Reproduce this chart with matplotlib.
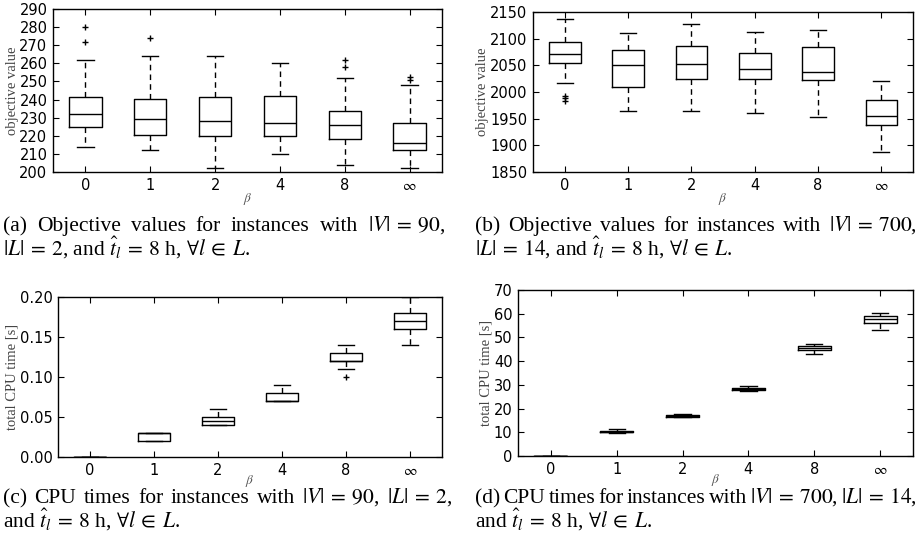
import matplotlib
matplotlib.use("Agg")
import matplotlib.pyplot as plt

plt.rcParams['mathtext.fontset'] = 'stix'
plt.rcParams['font.family'] = 'DejaVu Sans'

labels = ['0', '1', '2', '4', '8', r'$\infty$']

a_med = [232, 229, 228, 227, 226, 216]
a_q1 = [225, 220.5, 220, 220, 218, 212]
a_q3 = [241.5, 240.5, 241.5, 242, 233.5, 227]
a_lo = [214, 212, 202, 210, 204, 202]
a_hi = [262, 264, 264, 260, 252, 248]
a_fl = [[272, 280], [274], [], [], [258, 262], [251, 252.5]]

b_med = [2071, 2051, 2053, 2043, 2037, 1955]
b_q1 = [2055, 2010, 2025, 2024, 2022, 1939]
b_q3 = [2094, 2078, 2087, 2074, 2085, 1985]
b_lo = [2016, 1965, 1965, 1960, 1954, 1888]
b_hi = [2137, 2111, 2128, 2113, 2117, 2020]
b_fl = [[1984, 1988, 1992], [], [], [], [], []]

c_med = [0, 0.03, 0.045, 0.07, 0.12, 0.17]
c_q1 = [0, 0.02, 0.04, 0.07, 0.12, 0.16]
c_q3 = [0, 0.03, 0.05, 0.08, 0.13, 0.18]
c_lo = [0, 0.02, 0.04, 0.07, 0.11, 0.14]
c_hi = [0, 0.03, 0.06, 0.09, 0.14, 0.20]
c_fl = [[], [], [], [], [0.10], []]

d_med = [0, 10.3, 16.9, 28.3, 45.6, 57.7]
d_q1 = [0, 10.0, 16.5, 27.8, 44.7, 56.0]
d_q3 = [0, 10.6, 17.3, 28.8, 46.4, 59.0]
d_lo = [0, 9.8, 16.3, 27.5, 42.9, 53.3]
d_hi = [0, 11.2, 17.7, 29.5, 47.3, 60.3]
d_fl = [[], [], [], [], [], []]

W, H = 920, 552
fig = plt.figure(figsize=(W / 100, H / 100), dpi=100)


def px_axes(l, t, r, b):
    return fig.add_axes([l / W, 1 - b / H, (r - l) / W, (b - t) / H])


def draw_panel(ax, med, q1, q3, lo, hi, fl, ylim, yticks, ylabel, yfmt, xlpad):
    stats = []
    for i in range(len(med)):
        stats.append(dict(med=med[i], q1=q1[i], q3=q3[i], whislo=lo[i],
                          whishi=hi[i], fliers=fl[i]))
    ax.bxp(stats, positions=range(1, len(med) + 1), widths=0.5,
           boxprops=dict(color='black', linewidth=1.0),
           whiskerprops=dict(color='black', linewidth=1.0, linestyle=(0, (4, 3))),
           capprops=dict(color='black', linewidth=1.0),
           medianprops=dict(color='black', linewidth=1.0),
           flierprops=dict(marker='+', markeredgecolor='black', markersize=5,
                           markeredgewidth=1.0, linestyle='none'))
    ax.set_xlim(0.5, len(med) + 0.5)
    ax.set_ylim(*ylim)
    ax.set_yticks(yticks)
    ax.set_yticklabels([yfmt.format(v) for v in yticks])
    ax.set_xticks(range(1, len(med) + 1))
    ax.set_xticklabels(labels)
    ax.tick_params(direction='in', top=True, right=True, length=4,
                   width=0.8, labelsize=10.5, pad=4)
    for sp in ax.spines.values():
        sp.set_linewidth(1.0)
    ax.set_ylabel(ylabel, family='Liberation Serif', fontsize=10.5,
                  color='#444444', labelpad=0.5)
    ax.set_xlabel(r'$\beta$', fontsize=9.5, color='#555555', labelpad=xlpad)


axa = px_axes(53, 9, 442, 172)
draw_panel(axa, a_med, a_q1, a_q3, a_lo, a_hi, a_fl, (200, 290),
           list(range(200, 291, 10)), 'objective value', '{:d}', -1)
axb = px_axes(533, 12, 913, 172)
draw_panel(axb, b_med, b_q1, b_q3, b_lo, b_hi, b_fl, (1850, 2150),
           list(range(1850, 2151, 50)), 'objective value', '{:d}', -1)
axc = px_axes(58, 297, 442, 457)
draw_panel(axc, c_med, c_q1, c_q3, c_lo, c_hi, c_fl, (0, 0.2),
           [0, 0.05, 0.10, 0.15, 0.20], 'total CPU time [s]', '{:.2f}', -3.5)
axd = px_axes(518, 290, 913, 456)
draw_panel(axd, d_med, d_q1, d_q3, d_lo, d_hi, d_fl, (0, 70),
           list(range(0, 71, 10)), 'total CPU time [s]', '{:d}', -3.5)

renderer = fig.canvas.get_renderer()
CAP_SIZE = 15.5


def justify(tokens, x0, x1, ybase):
    txts = []
    widths = []
    for t in tokens:
        tx = fig.text(0, 1 - ybase / H, t, fontsize=CAP_SIZE,
                      family='Liberation Serif', va='baseline', ha='left')
        txts.append(tx)
        widths.append(tx.get_window_extent(renderer).width)
    gap = (x1 - x0 - sum(widths)) / (len(tokens) - 1)
    x = x0
    for tx, w in zip(txts, widths):
        tx.set_x(x / W)
        x += w + gap


def plain(s, x0, ybase):
    fig.text(x0 / W, 1 - ybase / H, s, fontsize=CAP_SIZE,
             family='Liberation Serif', va='baseline', ha='left')


EQ = r'\:=\:'
justify(['(a)', 'Objective', 'values', 'for', 'instances', 'with',
         r'$|V|' + EQ + r'90$,'], 3, 445, 231)
plain(r'$|L|' + EQ + r'2$, and $\hat{t}_l' + EQ + r'8$ h, $\forall l\:\in\:L$.', 3, 256)

justify(['(b)', 'Objective', 'values', 'for', 'instances', 'with',
         r'$|V|' + EQ + r'700$,'], 475, 917, 231)
plain(r'$|L|' + EQ + r'14$, and $\hat{t}_l' + EQ + r'8$ h, $\forall l\:\in\:L$.', 475, 256)

justify(['(c)', 'CPU', 'times', 'for', 'instances', 'with',
         r'$|V|' + EQ + r'90$,', r'$|L|' + EQ + r'2$,'], 3, 452, 503)
plain(r'and $\hat{t}_l' + EQ + r'8$ h, $\forall l\:\in\:L$.', 3, 528)

justify(['(d)', 'CPU', 'times', 'for', 'instances', 'with',
         r'$|V|' + EQ + r'700$,', r'$|L|' + EQ + r'14$,'], 475, 917, 503)
plain(r'and $\hat{t}_l' + EQ + r'8$ h, $\forall l\:\in\:L$.', 475, 528)

fig.savefig('out.png', dpi=100)
